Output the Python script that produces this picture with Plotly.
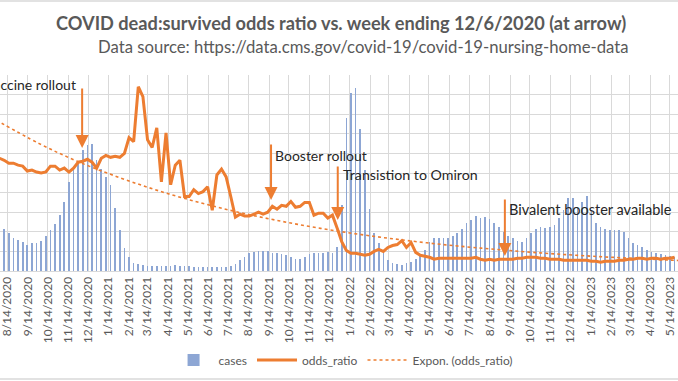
import pandas as pd
import plotly.graph_objects as go

# ---------------- data ----------------
first_week = "2020-08-02"   # week-ending date of first visible point (weekly thereafter)

cases = [21400, 21400, 19400, 16800, 15800, 14800, 13300, 14300, 14300, 15300,
         17900, 20900, 24000, 28600, 35200, 45400, 53100, 55100, 61700, 64300,
         64800, 56600, 52000, 48000, 43900, 32100, 20900, 11700, 7100, 4100,
         3600, 3100, 2600, 2600, 2400, 2800, 2600, 2800, 3100, 2800,
         2500, 2300, 2000, 2000, 1900, 1800, 1800, 1900, 2000, 2100,
         2300, 3600, 5600, 7100, 9200, 9700, 10200, 10200, 10200, 9200,
         9200, 8700, 8200, 7100, 6100, 6100, 7100, 8700, 9200, 9200,
         9200, 9700, 9200, 12200, 33700, 78100, 90800, 93400, 72400, 51500,
         31600, 19400, 14300, 9200, 5600, 4100, 3600, 3100, 4100, 4600,
         6100, 8200, 10700, 14800, 16800, 16800, 16800, 16800, 17900, 19400,
         21400, 24500, 26000, 28100, 27000, 27600, 26500, 24500, 22400, 19900,
         17900, 16800, 15300, 14800, 16800, 19400, 21400, 22400, 21900, 22400,
         23500, 27000, 31100, 37200, 37200, 32700, 35200, 38300, 31100, 24500,
         22400, 21400, 20900, 20900, 20900, 19900, 16800, 14300, 13300, 12200,
         10700, 9700, 9200, 8700, 8200, 7700, 7100]

odds_ratio = [0.115, 0.113, 0.110, 0.110, 0.108, 0.107, 0.102, 0.103, 0.101, 0.100,
              0.101, 0.107, 0.107, 0.103, 0.105, 0.101, 0.105, 0.111, 0.112, 0.114,
              0.111, 0.105, 0.115, 0.118, 0.116, 0.117, 0.116, 0.120, 0.136, 0.132,
              0.188, 0.178, 0.134, 0.126, 0.146, 0.091, 0.141, 0.088, 0.108, 0.113,
              0.076, 0.076, 0.083, 0.079, 0.081, 0.086, 0.062, 0.098, 0.104, 0.096,
              0.076, 0.055, 0.058, 0.056, 0.056, 0.058, 0.060, 0.058, 0.060, 0.066,
              0.063, 0.067, 0.066, 0.071, 0.065, 0.066, 0.070, 0.070, 0.057, 0.059,
              0.059, 0.054, 0.057, 0.044, 0.030, 0.021, 0.018, 0.018, 0.017, 0.016,
              0.017, 0.020, 0.022, 0.020, 0.024, 0.026, 0.027, 0.031, 0.024, 0.029,
              0.019, 0.016, 0.015, 0.014, 0.012, 0.013, 0.013, 0.013, 0.013, 0.013,
              0.0128, 0.013, 0.013, 0.014, 0.012, 0.011, 0.012, 0.011, 0.012, 0.012,
              0.012, 0.012, 0.013, 0.013, 0.014, 0.014, 0.014, 0.013, 0.013, 0.012,
              0.012, 0.012, 0.011, 0.011, 0.011, 0.011, 0.011, 0.011, 0.010, 0.010,
              0.009, 0.010, 0.010, 0.010, 0.011, 0.011, 0.012, 0.012, 0.013, 0.013,
              0.012, 0.013, 0.013, 0.012, 0.013, 0.013, 0.014]

# exponential trendline
trend_dates = ["2020-07-20", "2020-10-01", "2020-12-01", "2021-02-01", "2021-04-01",
               "2021-06-01", "2021-08-01", "2021-10-01", "2021-12-01", "2022-02-01",
               "2022-04-01", "2022-06-01", "2022-08-01", "2022-10-01", "2022-12-01",
               "2023-02-01", "2023-04-01", "2023-06-01"]
trend_values = [0.157, 0.130, 0.111, 0.095, 0.0816, 0.0698, 0.0596, 0.0510, 0.0435,
                0.0371, 0.0319, 0.0272, 0.0233, 0.0199, 0.0170, 0.0145, 0.0125, 0.0106]

# event arrows: (date, odds value at arrow tip)
event_dates = ["2020-12-05", "2021-09-17", "2021-12-27", "2022-09-06"]
event_tips = [0.1255, 0.0724, 0.052, 0.0153]

title_text = "COVID dead:survived odds ratio vs. week ending 12/6/2020 (at arrow)"
subtitle_text = "Data source: https://data.cms.gov/covid-19/covid-19-nursing-home-data"

weeks = pd.date_range(first_week, periods=len(cases), freq="7D")

# ---------------- figure ----------------
W, H = 678, 381
TOP, BOT = 75, 271
PH = BOT - TOP

def py(p):  # pixel row -> paper y
    return (BOT - p) / PH

def px(p):  # pixel col -> paper x
    return p / W

ORANGE = "#ED7D31"
GRID = "#D9D9D9"
FONT = "Lato"

fig = go.Figure()
fig.add_trace(go.Bar(x=weeks, y=cases, name="cases", yaxis="y",
                     marker=dict(color="#8DA6D4", line=dict(width=0)),
                     width=1.0 * 86400000))
fig.add_trace(go.Scatter(x=weeks, y=odds_ratio, name="odds_ratio", yaxis="y2",
                         mode="lines", line=dict(color=ORANGE, width=3)))
fig.add_trace(go.Scatter(x=trend_dates, y=trend_values, name="Expon. (odds_ratio)",
                         yaxis="y2", mode="lines",
                         line=dict(color=ORANGE, width=1.6, dash="dot", shape="spline")))

annotations = []
labels = [("Vaccine rollout", 78, 84, "right", 14),
          ("Booster rollout", 273, 155, "left", 14),
          ("Transistion to Omiron", 341, 174, "left", 14.2),
          ("Bivalent booster available", 507, 209, "left", 14.5)]
for txt, x0, y0, anc, fs in labels:
    annotations.append(dict(text=txt, xref="paper", yref="paper", x=px(x0), y=py(y0),
                            xanchor=anc, yanchor="middle", showarrow=False,
                            font=dict(family=FONT, size=fs, color="#262626")))
tails = [-61, -57, -55, -58]
for d, t, ay in zip(event_dates, event_tips, tails):
    annotations.append(dict(text="", x=d, y=t, xref="x", yref="y2", showarrow=True,
                            ax=0, ay=ay, arrowcolor=ORANGE, arrowwidth=2,
                            arrowhead=2, arrowsize=1.3))
annotations.append(dict(text="<b>" + title_text + "</b>", xref="paper", yref="paper",
                        x=px(341), y=py(23), xanchor="center", yanchor="middle",
                        showarrow=False, font=dict(family=FONT, size=18.2, color="#595959")))
annotations.append(dict(text=subtitle_text, xref="paper", yref="paper",
                        x=px(363), y=py(47), xanchor="center", yanchor="middle",
                        showarrow=False, font=dict(family=FONT, size=16.7, color="#595959")))

shapes = [dict(type="line", xref="paper", yref="paper", x0=0, x1=1, y0=py(1), y1=py(1),
               line=dict(color=GRID, width=1.5)),
          dict(type="line", xref="paper", yref="paper", x0=0, x1=1, y0=py(379), y1=py(379),
               line=dict(color=GRID, width=1.5))]

fig.update_layout(
    width=W, height=H,
    margin=dict(l=0, r=0, t=TOP, b=H - BOT, pad=0),
    paper_bgcolor="white", plot_bgcolor="white",
    barmode="overlay", bargap=0,
    font=dict(family=FONT, size=12, color="#595959"),
    showlegend=True,
    legend=dict(orientation="h", x=0.506, xanchor="center", y=py(360), yanchor="middle",
                font=dict(family=FONT, size=12, color="#595959"),
                itemwidth=40, traceorder="normal"),
    xaxis=dict(type="date", range=["2020-08-02 15:20", "2023-05-26 03:20"],
               tick0="2020-08-14", dtick="M1", tickformat="%-m/%-d/%Y",
               tickangle=-90, showgrid=True, gridcolor=GRID, gridwidth=1,
               showline=True, linecolor=GRID, linewidth=1, ticks="",
               ticklabeloverflow="allow",
               tickfont=dict(family=FONT, size=12, color="#595959"), zeroline=False),
    yaxis=dict(range=[0, 100000], dtick=10000, showgrid=True, gridcolor=GRID,
               gridwidth=1, showticklabels=False, zeroline=False, ticks=""),
    yaxis2=dict(range=[0, 0.2], overlaying="y", side="right", showgrid=False,
                showticklabels=False, zeroline=False, ticks="", visible=False),
    annotations=annotations,
    shapes=shapes,
)

fig.write_html("out.html", config={"displayModeBar": False},
               post_script="document.body.style.margin='0';document.body.style.overflow='hidden';")
